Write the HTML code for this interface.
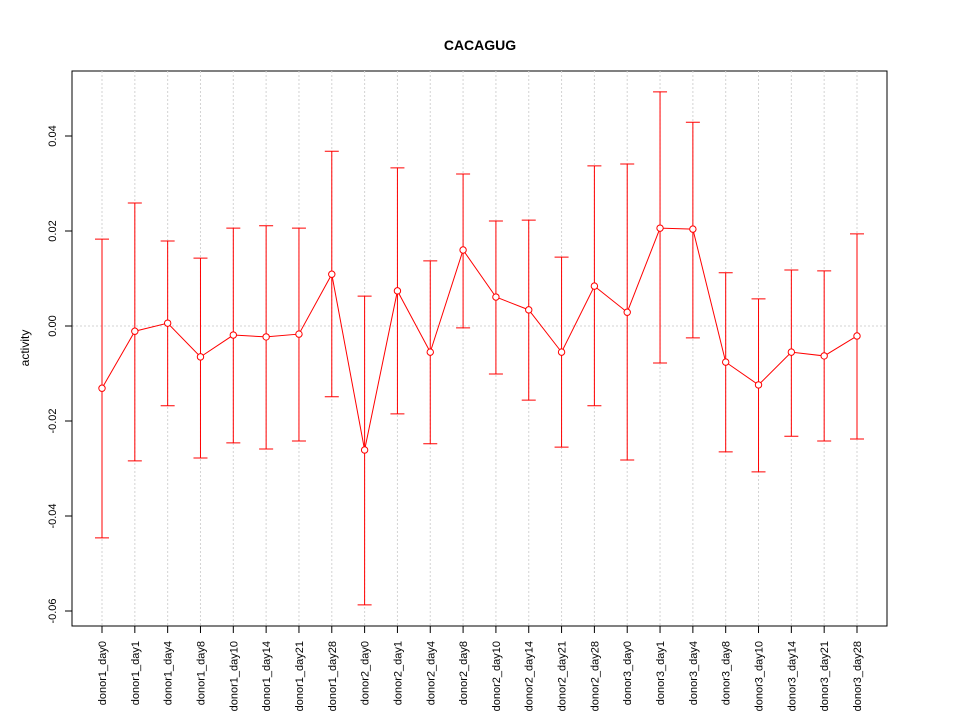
<!DOCTYPE html>
<html><head><meta charset="utf-8"><style>
body{margin:0;background:#fff}
svg{display:block;font-family:"Liberation Sans",sans-serif}
</style></head><body>
<svg id="chart" width="960" height="720">
<text x="480" y="50" text-anchor="middle" font-weight="bold" font-size="14">CACAGUG</text>
<text transform="translate(29,348) rotate(-90)" text-anchor="middle" font-size="12">activity</text>
<rect x="72" y="71" width="815" height="555" fill="none" stroke="#000"/>
<g id="grid"></g><g id="yaxis"></g><g id="xaxis"></g><g id="marks"></g>
</svg>
<script>
const categories=["donor1_day0","donor1_day1","donor1_day4","donor1_day8","donor1_day10","donor1_day14","donor1_day21","donor1_day28","donor2_day0","donor2_day1","donor2_day4","donor2_day8","donor2_day10","donor2_day14","donor2_day21","donor2_day28","donor3_day0","donor3_day1","donor3_day4","donor3_day8","donor3_day10","donor3_day14","donor3_day21","donor3_day28"];
const means=[-0.0131,-0.0011,0.0006,-0.0065,-0.0019,-0.0023,-0.0017,0.0109,-0.0261,0.0074,-0.0055,0.0160,0.0061,0.0034,-0.0055,0.0084,0.0029,0.0206,0.0204,-0.0076,-0.0124,-0.0055,-0.0063,-0.0021];
const uppers=[0.0183,0.0259,0.0179,0.0143,0.0206,0.0211,0.0206,0.0368,0.0063,0.0333,0.0137,0.0320,0.0221,0.0223,0.0145,0.0337,0.0341,0.0493,0.0429,0.0112,0.0057,0.0118,0.0116,0.0194];
const lowers=[-0.0446,-0.0284,-0.0168,-0.0278,-0.0246,-0.0259,-0.0242,-0.0149,-0.0587,-0.0185,-0.0248,-0.0004,-0.0101,-0.0156,-0.0255,-0.0168,-0.0282,-0.0078,-0.0025,-0.0265,-0.0307,-0.0232,-0.0242,-0.0238];
const yTicks=[-0.06,-0.04,-0.02,0.00,0.02,0.04];
const yTickLabels=["-0.06","-0.04","-0.02","0.00","0.02","0.04"];
const NS="http://www.w3.org/2000/svg";
const xS=i=>102+i*(857-102)/(categories.length-1);
const yS=v=>326-v*4750;
function mk(tag,attrs,parent){const e=document.createElementNS(NS,tag);for(const k in attrs)e.setAttribute(k,attrs[k]);document.getElementById(parent).appendChild(e);return e;}
categories.forEach((c,i)=>{
 const g=mk("line",{x1:xS(i),x2:xS(i),y1:71,y2:626,stroke:"#d3d3d3","stroke-dasharray":"2,2"},"grid");
 
 
 const t=mk("line",{x1:xS(i),x2:xS(i),y1:626,y2:633,stroke:"#000"},"xaxis");
 
 
 const l=mk("text",{transform:`translate(${xS(i)+4},641) rotate(-90)`,"text-anchor":"end","font-size":"11"},"xaxis");
 l.textContent=c;
 
 
});
const h=mk("line",{x1:72,x2:887,y1:yS(0),y2:yS(0),stroke:"#d3d3d3","stroke-dasharray":"2,2"},"grid");


mk("line",{x1:72,x2:72,y1:yS(yTicks[0]),y2:yS(yTicks[yTicks.length-1]),stroke:"#000"},"yaxis");
yTicks.forEach((v,i)=>{
 const t=mk("line",{x1:65,x2:72,y1:yS(v),y2:yS(v),stroke:"#000"},"yaxis");
 
 
 const l=mk("text",{transform:`translate(56,${yS(v)}) rotate(-90)`,"text-anchor":"middle","font-size":"11"},"yaxis");
 l.textContent=yTickLabels[i];
 
 
});
categories.forEach((c,i)=>{
 const x=xS(i);
 const e=mk("path",{d:`M${x},${yS(lowers[i])}V${yS(uppers[i])}M${x-7},${yS(uppers[i])}H${x+7}M${x-7},${yS(lowers[i])}H${x+7}`,stroke:"#f00",fill:"none"},"marks");
 
 
});
const line=mk("polyline",{points:means.map((v,i)=>xS(i)+","+yS(v)).join(" "),stroke:"#f00",fill:"none"},"marks");


means.forEach((v,i)=>{
 const p=mk("circle",{cx:xS(i),cy:yS(v),r:3.2,fill:"#fff",stroke:"#f00"},"marks");
 
 
});
</script>
</body></html>
